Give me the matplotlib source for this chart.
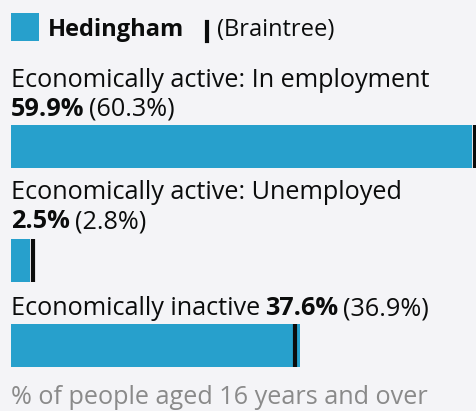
import matplotlib.pyplot as plt
from matplotlib.patches import Rectangle
from matplotlib.lines import Line2D

# data
categories = ["Economically active: In employment",
              "Economically active: Unemployed",
              "Economically inactive"]
area_values = [59.9, 2.5, 37.6]       # Hedingham
compare_values = [60.3, 2.8, 36.9]    # Braintree
area_name = "Hedingham"
compare_name = "Braintree"
footnote = "% of people aged 16 years and over"

W, H = 476, 411
BLUE = "#27a0cc"
BG = "#f4f4f7"
FS = 18.2
LEG_FS = 17

plt.rcParams['font.family'] = ['Open Sans', 'DejaVu Sans']

fig = plt.figure(figsize=(W / 100, H / 100), dpi=100, facecolor=BG)
fig.canvas.draw()
renderer = fig.canvas.get_renderer()


def fy(y):
    return 1 - y / H


def text_run(x, y, parts, gap=5, size=FS):
    # parts = [(string, weight, color)], written one after another on the same baseline
    for s, weight, color in parts:
        t = fig.text(x / W, fy(y), s, fontsize=size, fontweight=weight, color=color,
                     va='baseline', ha='left')
        x = t.get_window_extent(renderer).x1 + gap
    return x


def run_width(parts, gap=5):
    w = 0
    for s, weight, color in parts:
        t = fig.text(0, 0, s, fontsize=FS, fontweight=weight)
        w += t.get_window_extent(renderer).width + gap
        t.remove()
    return w


# legend
fig.patches.append(Rectangle((11 / W, fy(41)), 28 / W, 28 / H, transform=fig.transFigure,
                             facecolor=BLUE, edgecolor='none'))
text_run(48, 36, [(area_name, 'bold', '#0b0c0c')], size=LEG_FS)
fig.lines.append(Line2D([206.5 / W, 206.5 / W], [fy(22), fy(41)], transform=fig.transFigure,
                        color='#0b0c0c', lw=3))
text_run(217, 36, [("(" + compare_name + ")", 'normal', '#0b0c0c')], size=LEG_FS)

# bars: x 0..max maps to 11px..475px
ax = fig.add_axes([11 / W, 0, (475 - 11) / W, 1])
ax.set_xlim(0, max(compare_values))
ax.set_ylim(H, 0)
ax.axis('off')
ax.patch.set_alpha(0)

label_base = [87, 199, 315]
bar_top = [125, 239, 324]
bar_h = 43

for i, cat in enumerate(categories):
    value_parts = [(f"{area_values[i]:.1f}%", 'bold', '#0b0c0c'),
                   (f"({compare_values[i]:.1f}%)", 'normal', '#0b0c0c')]
    label_parts = [(cat, 'normal', '#0b0c0c')]
    if run_width(label_parts) + run_width(value_parts) > W - 11:
        text_run(11, label_base[i], label_parts)
        text_run(11, label_base[i] + 29, value_parts)
    else:
        text_run(11, label_base[i], label_parts + value_parts)

    ax.barh(bar_top[i] + bar_h / 2, area_values[i], height=bar_h, left=0,
            color=BLUE, edgecolor='none')
    ax.vlines(compare_values[i], bar_top[i], bar_top[i] + bar_h, color='#0b0c0c',
              lw=3, clip_on=False)

fig.text(11 / W, fy(404), footnote, fontsize=FS, color='#8a8a8a', va='baseline', ha='left')

fig.savefig("out.png", dpi=100, facecolor=BG)
